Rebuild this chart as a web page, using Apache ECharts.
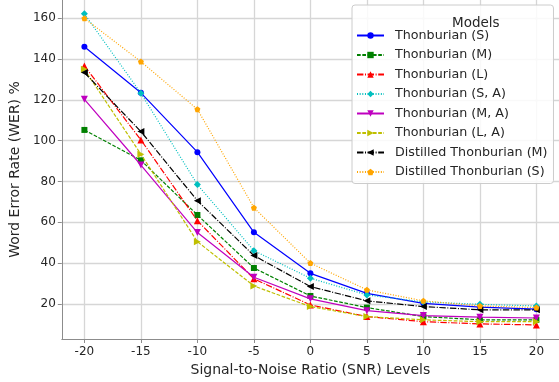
<!DOCTYPE html>
<html><head><meta charset="utf-8">
<script src="https://cdn.jsdelivr.net/npm/echarts@6/dist/echarts.min.js"></script>
<style>html,body{margin:0;padding:0;background:#fff}#c{width:559px;height:382px}</style>
</head><body><div id="c"></div>
<script>
const snr = [-20, -15, -10, -5, 0, 5, 10, 15, 20];
const xTicks = [-20, -15, -10, -5, 0, 5, 10, 15, 20];
const yTicks = [20, 40, 60, 80, 100, 120, 140, 160];
const names = ["Thonburian (S)", "Thonburian (M)", "Thonburian (L)", "Thonburian (S, A)", "Thonburian (M, A)", "Thonburian (L, A)", "Distilled Thonburian (M)", "Distilled Thonburian (S)"];
const thonS   = [146.1, 123.5, 94.4, 55.1, 35.0, 25.2, 20.3, 18.4, 17.4];
const thonM   = [105.3, 90.4, 63.6, 37.6, 23.9, 18.2, 13.8, 12.2, 12.2];
const thonL   = [136.7, 100.4, 60.8, 32.3, 19.5, 13.8, 11.3, 10.2, 9.7];
const thonSA  = [162.2, 123.3, 78.5, 46.1, 32.6, 24.4, 21.0, 19.8, 19.0];
const thonMA  = [120.3, 88.1, 55.0, 33.1, 22.5, 16.7, 14.3, 13.5, 13.1];
const thonLA  = [135.0, 93.4, 50.5, 28.8, 18.7, 13.8, 12.2, 11.3, 11.3];
const distM   = [133.4, 104.5, 70.6, 43.7, 28.5, 21.5, 18.7, 17.1, 17.1];
const distS   = [160.0, 138.8, 115.4, 67.2, 40.0, 26.9, 21.5, 19.0, 18.2];

const allData = [thonS, thonM, thonL, thonSA, thonMA, thonLA, distM, distS];
const colors = ['#0000ff', '#008000', '#ff0000', '#00bfbf', '#bf00bf', '#bfbf00', '#000000', '#ffa500'];
const dashes = ['solid', [3.7, 1.6], [6.4, 1.6, 1, 1.6], [1, 1.65], 'solid', [3.7, 1.6], [6.4, 1.6, 1, 1.6], [1, 1.65]];
const symbols = ['circle', 'rect', 'triangle', 'diamond',
  'path://M0,0 L10,0 L5,9 Z',
  'path://M0,0 L9,5 L0,10 Z',
  'path://M9,0 L0,5 L9,10 Z',
  'path://M5,0 L9.76,3.45 L7.94,9.05 L2.06,9.05 L0.24,3.45 Z'];
const sizes = [6, 6, 7, 7, 7, 7, 7, 6];

const series = allData.map((d, i) => ({
  name: names[i], type: 'line',
  data: snr.map((x, j) => [x, d[j]]),
  symbol: symbols[i], symbolSize: sizes[i],
  showSymbol: true, clip: false,
  lineStyle: { color: colors[i], width: 1.2, type: dashes[i] },
  itemStyle: { color: colors[i], borderWidth: 0 },
  emphasis: { disabled: true },
  z: 3 + i
}));

const chart = echarts.init(document.getElementById('c'), null, { renderer: 'canvas' });
const font = 'DejaVu Sans';
chart.setOption({
  animation: false,
  textStyle: { fontFamily: font },
  grid: { left: 57, right: 0, top: 0, bottom: 43, containLabel: false },
  xAxis: {
    type: 'value', min: -22, max: 22,
    name: 'Signal-to-Noise Ratio (SNR) Levels', nameLocation: 'middle', nameGap: 24,
    nameTextStyle: { fontSize: 14, color: '#262626', fontFamily: font },
    axisLine: { show: true, onZero: false, lineStyle: { color: '#8c8c8c', width: 1 } },
    axisTick: { show: true, length: 4, customValues: xTicks, lineStyle: { color: '#8c8c8c' } },
    axisLabel: { customValues: xTicks, fontSize: 12, color: '#262626', margin: 7, fontFamily: font },
    splitLine: { show: true, lineStyle: { color: '#d6d6d6', width: 1.3 } }
  },
  yAxis: {
    type: 'value', min: 2.8, max: 169,
    name: 'Word Error Rate (WER) %', nameLocation: 'middle', nameGap: 32,
    nameTextStyle: { fontSize: 14, color: '#262626', fontFamily: font },
    axisLine: { show: true, onZero: false, lineStyle: { color: '#8c8c8c', width: 1 } },
    axisTick: { show: true, length: 4, customValues: yTicks, lineStyle: { color: '#8c8c8c' } },
    axisLabel: { customValues: yTicks, fontSize: 12, color: '#262626', margin: 6, fontFamily: font },
    splitLine: { show: true, lineStyle: { color: '#d6d6d6', width: 1.3 } }
  },
  legend: {
    orient: 'vertical', left: 352, top: 5,
    data: names,
    itemWidth: 27, itemHeight: 8, itemGap: 6.5,
    padding: [24, 6, 5, 4],
    backgroundColor: 'rgba(255,255,255,0.85)', borderColor: '#cccccc', borderWidth: 1, borderRadius: 3,
    textStyle: { fontSize: 12.7, color: '#262626', fontFamily: font, lineHeight: 12, padding: [0, 0, 0, 6] },
    selectedMode: false
  },
  graphic: [{
    type: 'text', left: 452, top: 16, z: 100,
    style: { text: 'Models', fontSize: 13.5, fontFamily: font, fill: '#262626', textAlign: 'center', textVerticalAlign: 'middle' }
  }],
  series: series
});
</script></body></html>
